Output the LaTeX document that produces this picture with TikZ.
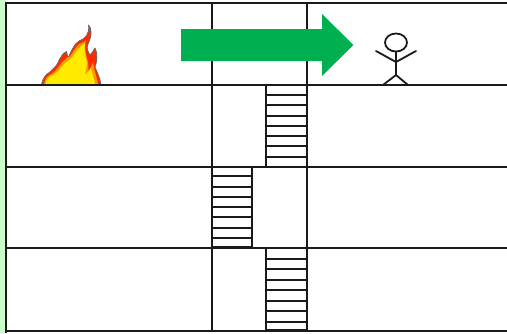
\documentclass[tikz,border=0pt]{standalone}
\definecolor{strip}{HTML}{CCFFCC}
\definecolor{arrowgreen}{HTML}{00B050}
\definecolor{ink}{HTML}{1A1A1A}
\definecolor{flameout}{HTML}{FF2A00}
\definecolor{flamemid}{HTML}{FF9900}
\definecolor{flamein}{HTML}{FFEA00}
\tikzset{
  wall/.style={draw=ink,line width=2pt},
  rung/.style={draw=ink,line width=1.7pt},
  figure line/.style={draw=ink,line width=1.8pt,line cap=round},
}
\begin{document}
\begin{tikzpicture}[x=1pt,y=-1pt]
\useasboundingbox (0,0) rectangle (507,333);
\fill[white] (0,0) rectangle (507,333);
\fill[strip] (0,0) rectangle (6,333);
% stairs
\foreach \x/\xx/\t/\list in {266/307/85/{95,105,116,126,136,146,157},212/252/167/{176,187,197,207,217,228,238},266/307/248/{259,269,280,290,301,311,322}}{
  \foreach \y in \list { \draw[rung] (\x,\y) -- (\xx,\y); }
}
\draw[wall] (266,85) -- (266,167);
\draw[wall] (252,167) -- (252,248);
\draw[wall] (266,248) -- (266,331);
\draw[draw=ink,line width=3pt] (212,247) -- (252,247);
\draw[draw=ink,line width=3pt] (266,330.5) -- (307,330.5);
% floors and walls
\foreach \y in {3,85,167,248,331} { \draw[wall] (6,\y) -- (507,\y); }
\draw[wall] (6,2) -- (6,333);
\draw[wall] (212,3) -- (212,331);
\draw[wall] (307,3) -- (307,331);
% flame
\draw[draw=ink!65,line width=0.8pt,fill=flameout,line join=round]
  (41.5,84.5) .. controls (43,78) and (45,75) .. (50,72) .. controls (52,69) and (55,68) .. (56,66)
  .. controls (59,62) and (60,55) .. (66.5,51.5) .. controls (67.5,54) and (67,56) .. (68,58)
  .. controls (71,52) and (74,44) .. (79,41) .. controls (85,39) and (90,34) .. (88.5,25)
  .. controls (92,28) and (92,36) .. (88,44) .. controls (86,48) and (88,52) .. (90,55)
  .. controls (92,53) and (94,50) .. (95,48) .. controls (98,53) and (97,62) .. (95,67)
  .. controls (97,72) and (100,78) .. (101,84.5) -- cycle;
\fill[flamemid]
  (44,84) .. controls (45,79) and (47,76) .. (52,73.5) .. controls (57,71) and (60,63) .. (66.5,58)
  .. controls (71,58) and (73,50) .. (78,45) .. controls (83,42) and (85,42) .. (86,40)
  .. controls (84,48) and (86,56) .. (88,62) .. controls (89,66) and (88,70) .. (88,71)
  .. controls (90,69) and (92,66) .. (93,62) .. controls (94,70) and (97,78) .. (98,84) -- cycle;
\fill[flamein]
  (45.5,84) .. controls (46,79) and (48,77) .. (54,74.5) .. controls (59,72) and (62,65) .. (68,60.5)
  .. controls (72,60) and (74,53) .. (79,48) .. controls (82,45) and (84,44) .. (85,43)
  .. controls (84,50) and (85,56) .. (87,63) .. controls (87,67) and (85,72) .. (85,75)
  .. controls (88,72) and (90,70) .. (91,68) .. controls (92,73) and (94,79) .. (95,84) -- cycle;
\draw[draw=ink,line width=2pt] (38,85) -- (105,85);
% arrow
\fill[arrowgreen] (181,29) -- (322,29) -- (322,14) -- (353.5,45) -- (322,76) -- (322,61) -- (181,61) -- cycle;
% person
\draw[figure line] (396,42.5) ellipse (11 and 9);
\draw[figure line] (396,52) -- (396,75);
\draw[figure line] (376,51) -- (396,62) -- (416,51);
\draw[figure line] (383,85) -- (396,75) -- (408,85);
\end{tikzpicture}
\end{document}
